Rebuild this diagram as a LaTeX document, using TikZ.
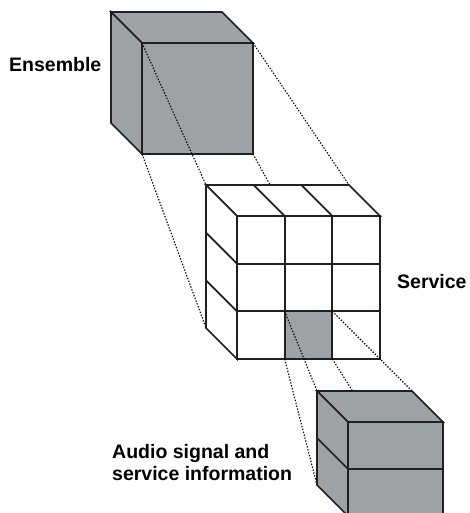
\documentclass[tikz,border=0pt]{standalone}
\usepackage{fontspec}
\setmainfont{Liberation Sans}
\definecolor{cbgray}{RGB}{157,162,167}
\definecolor{cbedge}{RGB}{35,31,32}
\tikzset{
  cbface/.style={fill=cbgray, draw=cbedge, line width=1.7pt, line join=miter},
  cbwhite/.style={fill=white, draw=cbedge, line width=1.7pt, line join=miter},
  cbline/.style={draw=cbedge, line width=1.7pt},
  cblink/.style={draw=black, line width=1.1pt, dash pattern=on 1.4pt off 1.6pt},
  cblab/.style={font=\fontsize{19.5}{22}\selectfont\bfseries, inner sep=0pt},
}

\begin{document}
\begin{tikzpicture}[x=1pt,y=-1pt]
  \useasboundingbox (0,0) rectangle (469,513);
  \clip (0,0) rectangle (469,513);
  % corners
  \coordinate (eTL) at (142,43);  \coordinate (eTR) at (253,43);
  \coordinate (eBL) at (142,154); \coordinate (eBR) at (253,154);
  \coordinate (sTL) at (206,185); \coordinate (sTR) at (349,185);
  \coordinate (sBL) at (206,328); \coordinate (sBR) at (349,328);
  \coordinate (cTL) at (284.67,311.33); \coordinate (cTR) at (332.33,311.33);
  \coordinate (cBL) at (284.67,359);    \coordinate (cBR) at (332.33,359);
  \coordinate (aTL) at (317,391); \coordinate (aTR) at (412,391);
  \coordinate (aBL) at (317,485); \coordinate (aBR) at (412,485);

  % ensemble
  \draw[cbface] (111,12) -- (222,12) -- (253,43) -- (142,43) -- cycle;
  \draw[cbface] (111,12) -- (142,43) -- (142,154) -- (111,123) -- cycle;
  \draw[cbface] (142,43) rectangle (253,154);
  \draw[cblink] (eTL) -- (sTL);
  \draw[cblink] (eTR) -- (sTR);
  \draw[cblink] (eBL) -- (sBL);
  \draw[cblink] (eBR) -- (sBR);

  % service
  \draw[cbwhite] (206,185) -- (349,185) -- (380,216) -- (237,216) -- cycle;
  \draw[cbwhite] (206,185) -- (237,216) -- (237,359) -- (206,328) -- cycle;
  \draw[cbwhite] (237,216) rectangle (380,359);
  \fill[cbgray] (cTL) rectangle (cBR);
  \foreach \k in {1,2} {
    \draw[cbline] (206+47.67*\k,185) -- (237+47.67*\k,216);
    \draw[cbline] (206,185+47.67*\k) -- (237,216+47.67*\k);
    \draw[cbline] (237+47.67*\k,216) -- (237+47.67*\k,359);
    \draw[cbline] (237,216+47.67*\k) -- (380,216+47.67*\k);
  }
  \draw[cbline] (237,216) rectangle (380,359);
  \draw[cblink] (cTL) -- (aTL);
  \draw[cblink] (cTR) -- (aTR);
  \draw[cblink] (cBL) -- (aBL);
  \draw[cblink] (cBR) -- (aBR);

  % audio signal and service information
  \draw[cbface] (317,391) -- (412,391) -- (443,422) -- (348,422) -- cycle;
  \draw[cbface] (317,391) -- (348,422) -- (348,516) -- (317,485) -- cycle;
  \draw[cbface] (348,422) rectangle (443,516);
  \draw[cbline] (317,438) -- (348,469) -- (443,469);

  % labels
  \node[cblab, anchor=base west] (ens) at (9,72) {Ensemble};
  \node[cblab, anchor=base west] (srv) at (397,288) {Service};
  \node[cblab, anchor=north west, align=left] (aud) at (112,444)
    {Audio signal and\\service information};
\end{tikzpicture}
\end{document}
